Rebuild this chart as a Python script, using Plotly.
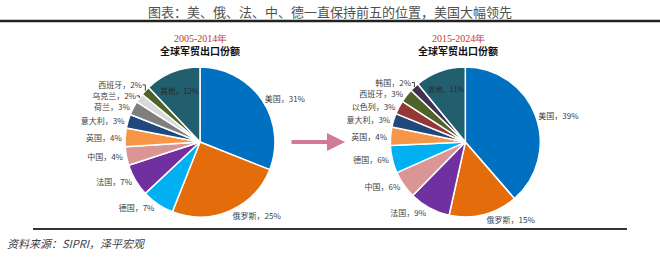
import plotly.graph_objects as go

left_labels = ["美国", "俄罗斯", "德国", "法国", "中国", "英国", "意大利", "荷兰", "乌克兰", "西班牙", "其他"]
left_values = [31, 25, 7, 7, 4, 4, 3, 3, 2, 2, 12]
left_colors = ["#0070C0", "#E46C0A", "#00B0F0", "#7030A0", "#D99694", "#F79646",
               "#1F497D", "#7F7F7F", "#D9D9D9", "#4F6228", "#215E6E"]

right_labels = ["美国", "俄罗斯", "法国", "中国", "德国", "英国", "意大利", "以色列", "西班牙", "韩国", "其他"]
right_values = [39, 15, 9, 6, 6, 4, 3, 3, 3, 2, 11]
right_colors = ["#0070C0", "#E46C0A", "#7030A0", "#D99694", "#00B0F0", "#F79646",
                "#1F497D", "#953735", "#4F6228", "#403152", "#215E6E"]

FONT = "Noto Sans CJK SC"

def pie(labels, values, colors, dx):
    pos = ["inside" if l == "其他" else "outside" for l in labels]
    return go.Pie(
        labels=labels, values=values, sort=False, direction="clockwise", rotation=0,
        marker=dict(colors=colors, line=dict(color="white", width=1.5)),
        texttemplate="%{label}，%{value}%", textposition=pos,
        insidetextorientation="horizontal",
        textfont=dict(size=8, color="#404040", family=FONT),
        insidetextfont=dict(size=8, color="#2b2b2b", family=FONT),
        showlegend=False, hoverinfo="label+value",
        domain=dict(x=dx, y=[0.162, 0.741]), automargin=False,
    )

fig = go.Figure()
fig.add_trace(pie(left_labels, left_values, left_colors, [0.189, 0.417]))
fig.add_trace(pie(right_labels, right_values, right_colors, [0.59, 0.82]))

annotations = [
    dict(text="图表：美、俄、法、中、德一直保持前五的位置，美国大幅领先", x=0.5, y=1 - 11/259,
         font=dict(size=13, color="#505050", family=FONT)),
    dict(text="2005-2014年", x=200/660, y=1 - 38/259, font=dict(size=10, color="#C0392B", family="Liberation Serif")),
    dict(text="<b>全球军贸出口份额</b>", x=200/660, y=1 - 50/259, font=dict(size=10, color="#111", family=FONT)),
    dict(text="2015-2024年", x=458/660, y=1 - 38/259, font=dict(size=10, color="#C0392B", family="Liberation Serif")),
    dict(text="<b>全球军贸出口份额</b>", x=458/660, y=1 - 50/259, font=dict(size=10, color="#111", family=FONT)),
    dict(text="<i>资料来源：SIPRI，泽平宏观</i>", x=5/660, y=1 - 243/259, xanchor="left",
         font=dict(size=11, color="#404040", family=FONT)),
]
for a in annotations:
    a.setdefault("xanchor", "center")
    a.update(xref="paper", yref="paper", showarrow=False, yanchor="middle")

# arrow
annotations.append(dict(x=345/660, y=1 - 142/259, ax=-55, ay=0,
                        xref="paper", yref="paper", axref="pixel", ayref="pixel",
                        showarrow=True, arrowhead=2, arrowsize=0.9, arrowwidth=4,
                        arrowcolor="#D27A96", text=""))

shapes = [
    dict(type="line", xref="paper", yref="paper", x0=0, x1=1, y0=1 - 21/259, y1=1 - 21/259,
         line=dict(color="#222", width=2.5)),
    dict(type="line", xref="paper", yref="paper", x0=0.05, x1=0.95, y0=1 - 229/259, y1=1 - 229/259,
         line=dict(color="#333", width=2)),
]

fig.update_layout(width=660, height=259, margin=dict(l=0, r=0, t=0, b=0),
                  paper_bgcolor="white", plot_bgcolor="white",
                  annotations=annotations, shapes=shapes, font=dict(family=FONT))
fig.write_html("out.html")
